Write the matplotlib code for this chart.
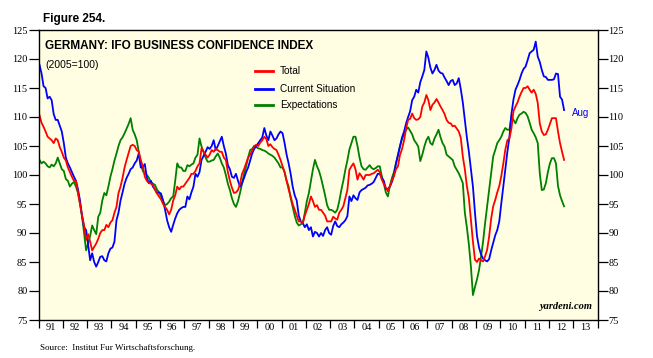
import numpy as np
import matplotlib
matplotlib.use("Agg")
import matplotlib.pyplot as plt

# Monthly data Jan 1991 - Aug 2012 (2005=100)
total = [
    110.3, 109.0, 108.3, 107.5, 106.6, 106.3, 106.0, 105.5, 106.3, 106.0, 104.8, 104.0,  # 1991
    103.0, 102.5, 101.3, 100.5, 99.7, 99.0, 99.0, 97.0, 95.0, 93.0, 91.3, 88.8,  # 1992
    89.8, 88.5, 87.0, 87.6, 88.2, 89.0, 90.0, 90.5, 90.5, 91.4, 91.0, 91.8,  # 1993
    92.2, 93.5, 94.5, 96.9, 98.0, 99.5, 101.3, 102.6, 103.8, 105.0, 105.2, 105.0,  # 1994
    104.3, 104.0, 102.6, 101.5, 99.7, 99.0, 98.6, 98.5, 98.3, 97.5, 96.8, 96.3,  # 1995
    95.8, 95.0, 94.5, 94.0, 93.2, 94.0, 95.6, 96.5, 98.0, 97.5, 98.0, 98.0,  # 1996
    98.5, 99.0, 99.5, 100.2, 100.2, 100.7, 101.5, 102.0, 104.6, 104.0, 103.5, 103.0,  # 1997
    103.5, 104.3, 104.0, 104.5, 104.3, 104.0, 104.0, 103.0, 102.6, 100.5, 99.0, 97.8,  # 1998
    96.9, 97.0, 97.4, 98.5, 100.2, 101.0, 102.0, 103.0, 103.5, 104.2, 105.0, 105.2,  # 1999
    105.0, 105.6, 106.0, 106.6, 106.2, 105.0, 105.3, 104.8, 104.5, 104.3, 103.5, 102.6,  # 2000
    101.5, 100.5, 99.0, 97.5, 96.3, 95.0, 94.0, 93.0, 92.0, 92.0, 91.7, 93.0,  # 2001
    94.0, 95.0, 96.3, 95.5, 94.5, 94.8, 94.0, 94.0, 93.5, 93.0, 92.0, 92.0,  # 2002
    92.0, 92.8, 92.5, 92.3, 93.5, 94.0, 94.6, 96.0, 97.4, 100.9, 101.5, 102.0,  # 2003
    101.0, 99.2, 100.3, 99.8, 99.2, 100.0, 100.0, 100.0, 100.2, 100.3, 100.6, 100.9,  # 2004
    100.5, 99.2, 98.5, 97.8, 97.2, 98.1, 99.0, 99.8, 101.0, 101.5, 103.5, 104.5,  # 2005
    106.0, 108.0, 109.5, 109.7, 110.6, 109.8, 109.5, 109.6, 110.0, 111.8, 112.5, 113.8,  # 2006
    112.9, 111.2, 112.1, 112.5, 113.1, 112.5, 111.8, 111.2, 110.5, 109.5, 109.0, 108.9,  # 2007
    108.4, 108.5, 108.0, 107.5, 106.4, 103.2, 101.0, 98.1, 96.0, 92.3, 88.5, 85.4,  # 2008
    85.0, 85.6, 85.3, 85.1, 86.0, 87.1, 89.4, 92.5, 94.6, 95.7, 97.0, 98.1,  # 2009
    99.8, 102.0, 104.4, 106.0, 106.3, 108.0, 111.0, 111.8, 112.5, 113.5, 114.3, 115.0,  # 2010
    115.0, 115.3, 114.7, 114.2, 114.7, 114.0, 112.4, 108.9, 107.5, 106.9, 107.0, 107.8,  # 2011
    108.8, 109.8, 109.8, 109.8, 107.5, 105.5, 104.0, 102.6,  # 2012
]

current = [
    119.0, 117.5, 115.3, 115.0, 113.2, 113.5, 112.9, 110.5, 109.5, 109.5, 108.5, 107.5,  # 1991
    105.5, 103.0, 102.0, 101.3, 100.5, 99.7, 99.0, 97.5, 95.6, 93.0, 91.0, 90.5,  # 1992
    88.0, 85.3, 86.5, 85.0, 84.2, 85.0, 85.9, 86.0, 85.3, 85.1, 86.5, 87.3,  # 1993
    87.5, 88.5, 92.2, 93.5, 95.6, 97.0, 98.5, 99.5, 100.2, 101.0, 101.3, 102.0,  # 1994
    102.5, 103.7, 101.3, 101.3, 101.9, 99.5, 98.6, 99.0, 98.0, 97.5, 96.9, 97.0,  # 1995
    96.8, 95.6, 94.0, 92.2, 91.0, 90.2, 91.4, 92.5, 93.4, 94.0, 94.3, 94.5,  # 1996
    94.5, 96.3, 95.8, 97.0, 98.0, 100.2, 99.7, 100.5, 102.6, 103.3, 104.0, 104.8,  # 1997
    104.5, 105.0, 106.0, 104.3, 105.0, 105.8, 106.6, 105.0, 103.7, 101.7, 101.0, 99.7,  # 1998
    99.5, 100.2, 99.0, 98.0, 98.6, 99.5, 100.5, 101.3, 102.5, 103.7, 104.5, 105.0,  # 1999
    105.5, 106.0, 106.5, 108.1, 106.8, 106.0, 107.5, 106.8, 106.0, 106.3, 107.0, 107.5,  # 2000
    107.2, 105.5, 103.5, 102.0, 100.2, 98.0, 96.5, 95.6, 93.0, 92.0, 91.7, 91.0,  # 2001
    91.5, 90.5, 91.0, 89.4, 90.2, 90.0, 89.4, 90.0, 89.5, 90.5, 91.0, 90.0,  # 2002
    89.7, 91.2, 92.0, 91.2, 91.0, 91.5, 91.8, 92.2, 92.9, 96.3, 95.5, 96.5,  # 2003
    96.0, 95.7, 97.0, 97.4, 97.6, 97.8, 98.2, 98.3, 98.5, 98.8, 99.5, 100.2,  # 2004
    100.2, 99.5, 99.0, 97.6, 97.6, 98.0, 98.8, 100.0, 102.0, 103.5, 105.0, 106.5,  # 2005
    107.5, 108.9, 110.0, 111.0, 112.9, 113.5, 114.7, 114.2, 116.0, 117.0, 118.1, 121.3,  # 2006
    120.2, 118.5, 117.5, 118.1, 119.0, 118.0, 117.6, 117.5, 116.8, 116.2, 115.5, 116.2,  # 2007
    116.4, 115.5, 115.8, 116.7, 114.8, 112.5, 109.5, 106.5, 104.0, 101.0, 98.0, 93.5,  # 2008
    89.5, 87.5, 86.3, 85.6, 85.3, 85.1, 85.5, 87.0, 88.3, 89.6, 90.5, 92.0,  # 2009
    95.1, 98.0, 101.0, 104.0, 106.5, 110.5, 113.0, 114.7, 115.5, 116.4, 117.5, 118.3,  # 2010
    118.7, 119.8, 121.0, 121.3, 121.6, 123.0, 120.4, 119.5, 118.1, 117.0, 116.9, 116.4,  # 2011
    116.4, 116.4, 116.5, 117.5, 117.4, 113.5, 113.0, 111.2,  # 2012
]

expectations = [
    102.6, 102.0, 102.3, 102.0, 101.5, 101.3, 101.8, 101.5, 102.0, 103.0, 102.0, 101.0,  # 1991
    100.7, 99.3, 99.0, 98.0, 98.5, 98.8, 98.0, 96.9, 95.0, 92.8, 90.0, 87.0,  # 1992
    88.2, 89.5, 91.3, 90.5, 89.8, 92.8, 93.5, 95.6, 96.9, 96.5, 98.0, 99.7,  # 1993
    101.0, 102.5, 103.7, 105.0, 106.0, 106.5, 107.2, 108.0, 108.8, 109.8, 107.8, 107.0,  # 1994
    106.0, 104.0, 102.0, 100.7, 100.2, 100.0, 99.5, 98.8, 98.5, 98.3, 97.5, 97.0,  # 1995
    96.3, 95.5, 94.8, 95.0, 95.4, 96.0, 96.3, 99.0, 102.0, 101.3, 101.3, 100.7,  # 1996
    100.7, 101.7, 101.5, 101.8, 102.0, 103.0, 103.5, 106.3, 104.9, 104.0, 103.0, 102.3,  # 1997
    102.3, 102.5, 102.6, 103.2, 103.7, 103.0, 102.0, 101.3, 100.0, 98.5, 97.4, 96.0,  # 1998
    95.0, 94.5, 95.5, 96.9, 98.5, 100.2, 101.5, 103.0, 104.3, 104.5, 105.0, 104.8,  # 1999
    104.6, 104.5, 104.3, 104.2, 104.0, 103.7, 103.5, 103.3, 103.0, 102.5, 102.0, 101.3,  # 2000
    101.3, 100.5, 99.0, 98.0, 96.0, 94.5, 93.0, 91.8, 91.3, 91.5, 91.7, 93.5,  # 2001
    95.5, 96.9, 99.0, 101.0, 102.6, 101.5, 100.7, 99.5, 98.0, 96.5, 94.8, 94.0,  # 2002
    94.0, 93.8, 93.5, 94.0, 95.5, 97.4, 99.0, 100.9, 102.5, 104.4, 105.5, 106.6,  # 2003
    106.6, 105.0, 103.0, 101.5, 101.0, 100.9, 101.3, 101.7, 101.2, 101.0, 101.2, 101.5,  # 2004
    101.5, 99.8, 98.5, 97.0, 96.3, 98.1, 99.5, 100.5, 102.0, 103.4, 105.0, 106.2,  # 2005
    107.0, 107.8, 108.2, 107.6, 107.0, 106.0, 105.5, 104.9, 102.4, 103.5, 104.9, 106.0,  # 2006
    106.6, 105.5, 105.2, 106.3, 107.0, 107.8, 106.5, 105.5, 104.9, 103.5, 103.2, 102.9,  # 2007
    102.6, 101.5, 100.9, 100.3, 99.5, 98.6, 93.5, 91.0, 88.0, 84.2, 79.3, 80.7,  # 2008
    82.0, 83.6, 85.9, 88.5, 91.7, 94.6, 97.5, 100.3, 103.2, 104.3, 105.5, 106.0,  # 2009
    106.6, 107.5, 108.1, 107.8, 107.8, 110.1, 109.5, 108.9, 109.8, 110.4, 110.6, 110.9,  # 2010
    110.7, 110.1, 109.0, 107.8, 107.2, 106.5, 105.5, 100.3, 97.4, 97.5, 98.6, 100.5,  # 2011
    102.0, 102.9, 102.9, 102.0, 98.1, 96.5, 95.5, 94.6,  # 2012
]

series_names = ["Total", "Current Situation", "Expectations"]
year_labels = ["91", "92", "93", "94", "95", "96", "97", "98", "99", "00", "01", "02",
               "03", "04", "05", "06", "07", "08", "09", "10", "11", "12", "13"]
start_year = 1991
last_label = "Aug"

n = len(total)
t = start_year + (np.arange(n) + 0.5) / 12.0

W, H = 653, 358
fig = plt.figure(figsize=(W / 100, H / 100), dpi=100)
fig.patch.set_facecolor("white")

L, R, T, B = 38.5, 597.5, 30, 320
ax = fig.add_axes([L / W, 1 - B / H, (R - L) / W, (B - T) / H])
ax.set_facecolor("#FFFEE2")

colors = ["#FF0000", "#0000FF", "#008000"]
for vals, c in zip([expectations, current, total], [colors[2], colors[1], colors[0]]):
    ax.plot(t, vals, color=c, lw=1.3, solid_joinstyle="round")

ax.set_xlim(start_year, start_year + len(year_labels))
ax.set_ylim(75, 125)

serif = "Liberation Serif"
sans = "Liberation Sans"

yt = np.arange(75, 126, 5)
ax.set_yticks(yt)
ax.set_yticklabels([str(v) for v in yt], fontfamily=serif, fontsize=7.5)
ax.tick_params(axis="y", direction="out", length=7, width=0.9, pad=1,
               left=True, right=True, labelleft=True, labelright=True)

years = np.arange(start_year, start_year + len(year_labels) + 1)
ax.set_xticks(years)
ax.set_xticklabels([])
ax.set_xticks(years[:-1] + 0.5, minor=True)
ax.set_xticklabels(year_labels, minor=True, fontfamily=serif, fontsize=7.5)
ax.tick_params(axis="x", which="major", direction="out", length=6, width=0.9)
ax.tick_params(axis="x", which="minor", length=0, pad=2)

for s in ax.spines.values():
    s.set_linewidth(1.0)

# Titles
fig.text(43 / W, 1 - 19 / H, "Figure 254.", fontfamily=sans, fontweight="bold",
         fontsize=8.5, va="center", ha="left")
ax.text(0.012, 0.965, "GERMANY: IFO BUSINESS CONFIDENCE INDEX", transform=ax.transAxes,
        fontfamily=sans, fontweight="bold", fontsize=8.5, va="top", ha="left")
ax.text(0.012, 0.895, "(2005=100)", transform=ax.transAxes,
        fontfamily=sans, fontsize=7.5, va="top", ha="left")

# Legend (manual)
leg_y = [71, 89, 105]
for name, c, yy in zip(series_names, colors, leg_y):
    yf = 1 - (yy - T) / (B - T)
    x0 = (255 - L) / (R - L)
    x1 = (273 - L) / (R - L)
    ax.plot([x0, x1], [yf, yf], color=c, lw=2, transform=ax.transAxes, clip_on=False)
    ax.text((280 - L) / (R - L), yf, name, transform=ax.transAxes, fontfamily=sans,
            fontsize=7.2, va="center", ha="left")

# End label
ax.annotate(last_label, xy=(t[-1], current[-1]), xytext=(6, -2), textcoords="offset points",
            color="#0000FF", fontfamily=sans, fontsize=7, va="center", ha="left")

ax.text(0.99, 0.03, "yardeni.com", transform=ax.transAxes, fontfamily=serif,
        fontweight="bold", fontstyle="italic", fontsize=7.5, ha="right", va="bottom")

fig.text(40 / W, 1 - 348 / H, "Source:  Institut Fur Wirtschaftsforschung.",
         fontfamily=serif, fontsize=6.5, ha="left", va="center")

fig.savefig("out.png", dpi=100, facecolor="white")
